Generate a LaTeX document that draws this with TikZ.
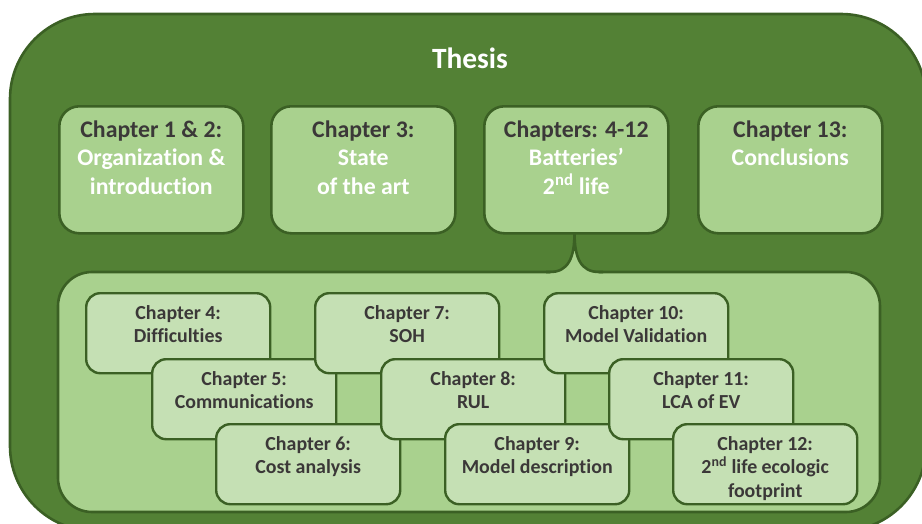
\documentclass[tikz,border=0pt]{standalone}
\usepackage{fontspec}
\setmainfont{Carlito}[Ligatures=NoCommon]
\usetikzlibrary{positioning}

\definecolor{thesisgreen}{HTML}{538135}
\definecolor{edgegreen}{HTML}{3B6024}
\definecolor{midgreen}{HTML}{A9D18E}
\definecolor{palegreen}{HTML}{C5E0B4}
\definecolor{chapgray}{HTML}{3B3838}

\tikzset{
  topbox/.style={draw=edgegreen, fill=midgreen, line width=2.6pt, rounded corners=20pt,
    minimum width=184pt, minimum height=127pt, anchor=north west, inner sep=0pt},
  subbox/.style={draw=edgegreen, fill=palegreen, line width=2.4pt, rounded corners=14pt,
    minimum width=184pt, minimum height=80pt, anchor=north west, inner sep=0pt},
  toptext/.style={font=\bfseries\fontsize{23.8}{28.5}\selectfont, align=center, anchor=north,
    inner sep=0pt, text=white},
  subtext/.style={font=\bfseries\fontsize{19.9}{23.5}\selectfont, align=center, anchor=north,
    inner sep=0pt, text=chapgray},
}

\begin{document}
\begin{tikzpicture}[x=1pt, y=-1pt]
\def \topy {105}
\def \rowone {292}
\def \rowtwo {358}
\def \rowthree {423}
\def \groupone {85}
\def \grouptwo {314}
\def \groupthree {543}

\useasboundingbox (0,0) rectangle (922,523);
\clip (0,0) rectangle (922,523);

%Thesis frame
\draw[fill=thesisgreen, draw=edgegreen, line width=2.6pt, rounded corners=85pt] (10,14) rectangle (926,531);
\node[text=white, font=\bfseries\fontsize{29.4}{34}\selectfont] (thesis) at (470,58) {Thesis};

%Panel under chapters 4-12
\draw[fill=midgreen, draw=edgegreen, line width=2.6pt, rounded corners=34pt] (58,272) rectangle (880,512);
%notch up to chapters 4-12
\fill[midgreen] (550,272) .. controls (568,272) and (574.5,258) .. (574.5,233)
  .. controls (574.5,258) and (581,272) .. (599,272) -- (599,276) -- (550,276) -- cycle;
\draw[draw=edgegreen, line width=2.6pt] (546,272) -- (550,272) .. controls (568,272) and (574.5,258) .. (574.5,233)
  .. controls (574.5,258) and (581,272) .. (599,272) -- (603,272);

%Top row
\node[topbox] (ch12) at (58,\topy) {};
\node[topbox] (ch3) at (270,\topy) {};
\node[topbox] (ch412) at (483,\topy) {};
\node[topbox] (ch13) at (697,\topy) {};

\node[toptext] (ch12txt) at ([yshift=-15.5pt]ch12.north) {\textcolor{chapgray}{Chapter 1 \& 2:}\\Organization \&\\introduction};
\node[toptext] (ch3txt) at ([yshift=-15.5pt]ch3.north) {\textcolor{chapgray}{Chapter 3:}\\State\\of the art};
\node[toptext] (ch412txt) at ([yshift=-15.5pt]ch412.north) {\textcolor{chapgray}{Chapters: 4-12}\\Batteries'\\2\textsuperscript{nd} life};
\node[toptext] (ch13txt) at ([yshift=-15.5pt]ch13.north) {\textcolor{chapgray}{Chapter 13:}\\Conclusions};

%Chapters 4 to 6
\node[subbox] (ch4) at (\groupone,\rowone) {};
\node[subtext] at ([yshift=-13pt]ch4.north) {Chapter 4:\\Difficulties};
\node[subbox] (ch5) at (\groupone+66,\rowtwo) {};
\node[subtext] at ([yshift=-13pt]ch5.north) {Chapter 5:\\Communications};
\node[subbox] (ch6) at (\groupone+130,\rowthree) {};
\node[subtext] at ([yshift=-13pt]ch6.north) {Chapter 6:\\Cost analysis};

%Chapters 7 to 9
\node[subbox] (ch7) at (\grouptwo,\rowone) {};
\node[subtext] at ([yshift=-13pt]ch7.north) {Chapter 7:\\SOH};
\node[subbox] (ch8) at (\grouptwo+66,\rowtwo) {};
\node[subtext] at ([yshift=-13pt]ch8.north) {Chapter 8:\\RUL};
\node[subbox] (ch9) at (\grouptwo+130,\rowthree) {};
\node[subtext] at ([yshift=-13pt]ch9.north) {Chapter 9:\\Model description};

%Chapters 10 to 12
\node[subbox] (ch10) at (\groupthree,\rowone) {};
\node[subtext] at ([yshift=-13pt]ch10.north) {Chapter 10:\\Model Validation};
\node[subbox] (ch11) at (\groupthree+65,\rowtwo) {};
\node[subtext] at ([yshift=-13pt]ch11.north) {Chapter 11:\\LCA of EV};
\node[subbox] (ch12b) at (\groupthree+129,\rowthree) {};
\node[subtext] at ([yshift=-13pt]ch12b.north) {Chapter 12:\\2\textsuperscript{nd} life ecologic\\footprint};

\end{tikzpicture}
\end{document}
